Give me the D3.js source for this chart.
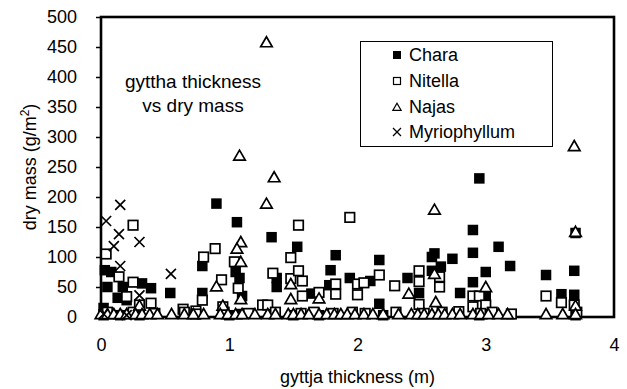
<!DOCTYPE html>
<html><head><meta charset="utf-8">
<script src="https://cdn.jsdelivr.net/npm/d3@7"></script>
<style>body{margin:0;background:#fff}svg{display:block}text{font-family:"Liberation Sans",Arial,sans-serif;fill:#000}</style>
</head><body>
<script>
const xTicks = [0,1,2,3,4];
const yTicks = [0,50,100,150,200,250,300,350,400,450,500];
const seriesNames = ["Chara","Nitella","Najas","Myriophyllum"];

const charaX = [0.02,0.03,0.08,0.05,0.17,0.13,0.20,0.32,0.39,0.30,0.54,0.79,0.79,0.90,1.06,1.08,1.05,1.10,1.33,1.37,1.37,1.53,1.64,1.79,1.78,1.83,1.94,2.10,2.17,2.17,2.39,2.48,2.58,2.60,2.58,2.65,2.74,2.80,2.90,2.90,2.90,2.95,3.00,3.00,3.10,3.19,3.47,3.59,3.69,3.69,3.70,0.02,0.15,0.30,1.00,1.10,1.50,1.70,2.20,2.50,2.95,3.70];
const charaY = [15,78,75,50,50,32,28,56,48,10,40,85,40,189,158,65,75,35,133,65,50,117,39,78,53,103,65,60,95,22,65,40,100,106,77,84,97,40,145,107,58,231,75,34,117,85,70,38,77,37,140,3,3,3,3,5,3,3,3,5,3,3];

const nitellaX = [0.04,0.14,0.25,0.25,0.20,0.39,0.30,0.64,0.74,0.79,0.80,0.89,0.94,0.95,1.04,1.07,1.26,1.30,1.34,1.48,1.48,1.54,1.54,1.57,1.57,1.70,1.83,1.83,1.94,2.00,2.05,2.00,2.17,2.29,2.48,2.48,2.48,2.64,2.64,2.79,2.90,2.95,2.90,3.00,3.20,3.47,3.59,3.69,0.05,0.25,0.42,0.65,0.74,0.96,1.15,1.36,1.56,1.66,1.81,1.96,2.06,2.30,2.52,2.66,2.96,3.05,3.71];
const nitellaY = [105,67,153,58,34,23,20,13,10,28,100,114,62,17,92,48,20,20,73,99,64,153,77,60,35,41,55,38,166,55,57,37,70,52,77,59,21,67,50,9,35,35,17,20,5,35,24,20,8,8,6,8,5,8,6,8,6,8,6,8,6,8,6,8,6,8,8];

const najasX = [1.29,1.08,1.35,1.29,2.60,3.69,3.70,1.09,1.06,1.09,0.90,1.09,0.30,0.95,1.48,1.48,1.70,2.40,2.60,2.61,3.00,3.70,0.00,0.05,0.10,0.15,0.20,0.27,0.32,0.38,0.44,0.55,0.65,0.72,0.80,0.93,0.99,1.05,1.10,1.20,1.30,1.36,1.46,1.50,1.56,1.62,1.70,1.76,1.82,1.87,1.92,1.98,2.05,2.12,2.20,2.32,2.42,2.47,2.52,2.58,2.63,2.68,2.74,2.80,2.90,2.96,3.02,3.10,3.17,3.47,3.60,3.70];
const najasY = [456,267,231,187,177,283,140,123,112,90,49,28,17,17,53,28,29,37,70,23,48,17,3,3,3,3,3,3,3,3,3,3,3,3,3,3,3,3,3,3,3,3,3,3,3,3,3,3,3,3,3,3,3,3,3,3,3,3,3,3,3,3,3,3,3,3,3,3,3,3,3,3];

const myrioX = [0.04,0.15,0.14,0.10,0.30,0.15,0.545,0.30,0.02,0.20];
const myrioY = [160,187,138,118,125,85,72,36,5,3];

const W = 627, H = 389;
const L = 101, R = 614, T = 17, B = 317;
const svg = d3.select("body").append("svg").attr("width", W).attr("height", H);
const x = d3.scaleLinear().domain([0,4]).range([L,R]);
const y = d3.scaleLinear().domain([0,500]).range([B,T]);
const FS = 18;

// y axis ticks and labels
const yAxis = d3.axisLeft(y).tickValues(yTicks).tickSize(5).tickPadding(19).tickFormat(d3.format("d"));
const ya = svg.append("g").attr("transform",`translate(${L},0)`).call(yAxis);
ya.select(".domain").remove();
ya.selectAll(".tick line").attr("stroke","#000").attr("stroke-width",1.5);
ya.selectAll(".tick text").attr("font-size",FS).attr("font-family","Liberation Sans, Arial, sans-serif");

// x axis labels (no tick marks)
const xAxis = d3.axisBottom(x).tickValues(xTicks).tickSize(0).tickPadding(21).tickFormat(d3.format("d"));
const xa = svg.append("g").attr("transform",`translate(0,${B})`).call(xAxis);
xa.select(".domain").remove();
xa.selectAll(".tick text").attr("font-size",FS).attr("font-family","Liberation Sans, Arial, sans-serif");

// plot border
svg.append("rect").attr("x",L).attr("y",T).attr("width",R-L).attr("height",B-T)
  .attr("fill","none").attr("stroke","#000").attr("stroke-width",2.6);

const g = svg.append("g");
const sq = 10.5;
function pts(X,Y){ return X.map((v,i)=>[v,Y[i]]); }
// Chara filled squares
g.selectAll(".chara").data(pts(charaX,charaY)).enter().append("rect")
  .attr("x",d=>x(d[0])-sq/2).attr("y",d=>y(d[1])-sq/2).attr("width",sq).attr("height",sq).attr("fill","#000");
// Nitella open squares
const os = 9.5;
g.selectAll(".nit").data(pts(nitellaX,nitellaY)).enter().append("rect")
  .attr("x",d=>x(d[0])-os/2).attr("y",d=>y(d[1])-os/2).attr("width",os).attr("height",os)
  .attr("fill","#fff").attr("stroke","#000").attr("stroke-width",1.7);
// Najas triangles
const tri = d3.symbol().type(d3.symbolTriangle).size(58);
g.selectAll(".naj").data(pts(najasX,najasY)).enter().append("path")
  .attr("d",tri).attr("transform",d=>`translate(${x(d[0])},${y(d[1])})`)
  .attr("fill","#fff").attr("stroke","#000").attr("stroke-width",1.7);
// Myriophyllum crosses
const cr = 5;
g.selectAll(".myr").data(pts(myrioX,myrioY)).enter().append("path")
  .attr("d",d=>{const cx=x(d[0]),cy=y(d[1]);return `M${cx-cr},${cy-cr}L${cx+cr},${cy+cr}M${cx-cr},${cy+cr}L${cx+cr},${cy-cr}`;})
  .attr("stroke","#000").attr("stroke-width",1.7).attr("fill","none");

// annotation
svg.append("text").attr("x",193).attr("y",88).attr("text-anchor","middle").attr("font-size",FS+1).text("gyttha thickness");
svg.append("text").attr("x",193).attr("y",112).attr("text-anchor","middle").attr("font-size",FS+1).text("vs dry mass");

// legend
const lg = svg.append("g");
lg.append("rect").attr("x",360.5).attr("y",41.5).attr("width",192).attr("height",105).attr("fill","#fff").attr("stroke","#000").attr("stroke-width",1);
const ly = [55,81,107,132];
seriesNames.forEach((n,i)=>{
  const cx = 397, cy = ly[i];
  if(i===0) lg.append("rect").attr("x",cx-4).attr("y",cy-4).attr("width",8).attr("height",8).attr("fill","#000");
  if(i===1) lg.append("rect").attr("x",cx-3.5).attr("y",cy-3.5).attr("width",7).attr("height",7).attr("fill","#fff").attr("stroke","#000").attr("stroke-width",1.2);
  if(i===2) lg.append("path").attr("d",d3.symbol().type(d3.symbolTriangle).size(30)).attr("transform",`translate(${cx},${cy+1})`).attr("fill","#fff").attr("stroke","#000").attr("stroke-width",1.2);
  if(i===3) lg.append("path").attr("d",`M${cx-4},${cy-4}L${cx+4},${cy+4}M${cx-4},${cy+4}L${cx+4},${cy-4}`).attr("stroke","#000").attr("stroke-width",1.3);
  lg.append("text").attr("x",409).attr("y",cy).attr("dy","0.36em").attr("font-size",FS).text(n);
});

// axis titles
svg.append("text").attr("x",(L+R)/2).attr("y",383).attr("text-anchor","middle").attr("font-size",FS).text("gyttja thickness (m)");
const yt = svg.append("text").attr("transform",`translate(36,${(T+B)/2}) rotate(-90)`).attr("text-anchor","middle").attr("font-size",FS);
yt.append("tspan").text("dry mass (g/m");
yt.append("tspan").attr("font-size",12).attr("dy",-7).text("2");
yt.append("tspan").attr("dy",7).text(")");
</script>
</body></html>
